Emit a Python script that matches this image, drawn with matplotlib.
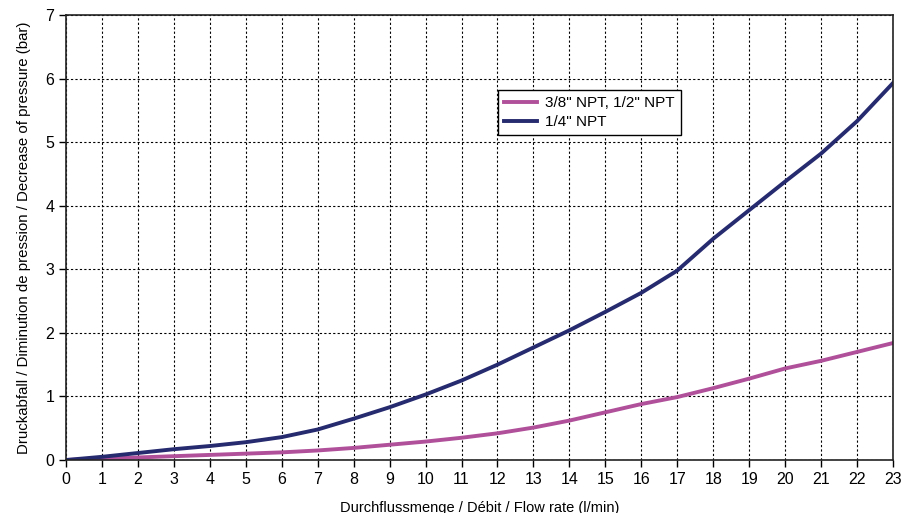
import matplotlib
matplotlib.use("Agg")
import matplotlib.pyplot as plt

plt.rcParams['font.family'] = ['Liberation Sans', 'DejaVu Sans']

flow = list(range(0, 24))
npt_38_12 = [0, 0.02, 0.04, 0.06, 0.08, 0.10, 0.12, 0.15, 0.19, 0.24, 0.29, 0.35,
             0.42, 0.51, 0.62, 0.75, 0.88, 0.99, 1.13, 1.28, 1.44, 1.56, 1.70, 1.84]
npt_14 = [0, 0.05, 0.11, 0.17, 0.22, 0.28, 0.36, 0.48, 0.65, 0.83, 1.03, 1.25,
          1.50, 1.77, 2.04, 2.33, 2.63, 2.98, 3.48, 3.93, 4.38, 4.82, 5.33, 5.93]
labels = ['3/8" NPT, 1/2" NPT', '1/4" NPT']

fig = plt.figure(figsize=(9.03, 5.13), dpi=100)
ax = fig.add_axes([66/903, 1 - 460/513, 827/903, 445/513])

ax.plot(flow, npt_38_12, color='#B0509A', lw=2.8, label=labels[0])
ax.plot(flow, npt_14, color='#262A6E', lw=2.8, label=labels[1])

ax.set_xlim(0, 23)
ax.set_ylim(0, 7)
ax.set_xticks(range(0, 24))
ax.set_yticks(range(0, 8))
ax.grid(True, color='black', linestyle=(0, (2, 2)), linewidth=0.8)
ax.tick_params(direction='out', length=5, width=1, labelsize=11.5, colors='black')
for s in ax.spines.values():
    s.set_linewidth(1.2)
    s.set_color('#222222')

ax.set_xlabel('Durchflussmenge / Débit / Flow rate (l/min)', fontsize=10.5, labelpad=10)
ax.set_ylabel('Druckabfall / Diminution de pression / Decrease of pressure (bar)', fontsize=10.8, labelpad=10)

leg = ax.legend(loc='upper left', bbox_to_anchor=(0.522, 0.831), fontsize=11,
                frameon=True, fancybox=False, edgecolor='black', framealpha=1,
                borderpad=0.4, handlelength=2.2, labelspacing=0.3, handletextpad=0.5,
                borderaxespad=0)
leg.get_frame().set_linewidth(1.0)

fig.savefig('out.png', dpi=100)
